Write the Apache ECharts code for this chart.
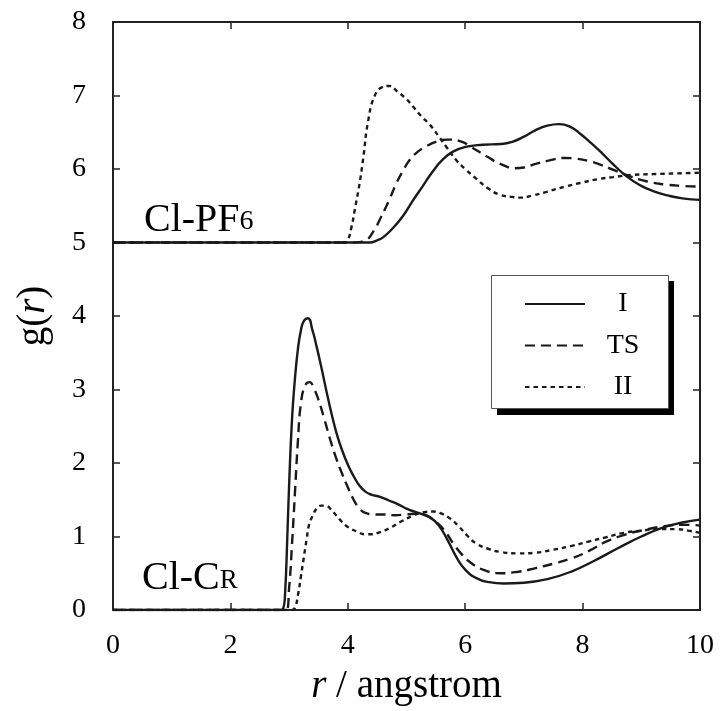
<!DOCTYPE html>
<html>
<head>
<meta charset="utf-8">
<script src="https://cdn.jsdelivr.net/npm/echarts@6/dist/echarts.min.js"></script>
<style>
html,body{margin:0;padding:0;background:#fff;}
#chart{width:723px;height:711px;}
</style>
</head>
<body>
<div id="chart"></div>
<script>
// ---- data ----
var seriesNames = ['I', 'TS', 'II'];
var xTicks = [0, 2, 4, 6, 8, 10];
var yTicks = [0, 1, 2, 3, 4, 5, 6, 7, 8];

// Cl-CR (lower curves)
var rLowI = [0, 2.85, 2.9, 2.93, 2.97, 3.0, 3.05, 3.1, 3.15, 3.2, 3.25, 3.32, 3.4, 3.47, 3.55, 3.63, 3.72, 3.81, 3.9, 4.0, 4.1, 4.2, 4.3, 4.4, 4.55, 4.7, 4.85, 5.0, 5.2, 5.4, 5.55, 5.7, 5.85, 6.0, 6.2, 6.4, 6.65, 7.0, 7.4, 7.8, 8.2, 8.6, 9.0, 9.4, 9.7, 10];
var gLowI = [0, 0, 0.02, 0.2, 1.0, 1.7, 2.6, 3.15, 3.55, 3.8, 3.93, 3.97, 3.8, 3.58, 3.3, 3.0, 2.68, 2.4, 2.18, 1.98, 1.82, 1.69, 1.61, 1.57, 1.54, 1.49, 1.44, 1.38, 1.32, 1.26, 1.15, 0.95, 0.72, 0.55, 0.43, 0.38, 0.36, 0.37, 0.42, 0.52, 0.67, 0.84, 1.0, 1.13, 1.19, 1.23];

var rLowTS = [0, 2.95, 3.0, 3.05, 3.1, 3.15, 3.2, 3.27, 3.35, 3.42, 3.5, 3.6, 3.7, 3.8, 3.9, 4.0, 4.1, 4.2, 4.3, 4.45, 4.6, 4.8, 5.0, 5.2, 5.35, 5.5, 5.65, 5.8, 5.95, 6.1, 6.3, 6.6, 6.9, 7.2, 7.5, 7.8, 8.1, 8.4, 8.7, 9.0, 9.4, 9.7, 10];
var gLowTS = [0, 0, 0.3, 0.9, 1.6, 2.3, 2.8, 3.05, 3.1, 3.02, 2.86, 2.6, 2.32, 2.07, 1.86, 1.67, 1.5, 1.38, 1.32, 1.3, 1.3, 1.29, 1.3, 1.31, 1.28, 1.2, 1.08, 0.9, 0.75, 0.64, 0.55, 0.5, 0.52, 0.57, 0.63, 0.7, 0.8, 0.93, 1.02, 1.08, 1.14, 1.16, 1.15];

var rLowII = [0, 3.05, 3.1, 3.15, 3.2, 3.24, 3.3, 3.34, 3.4, 3.47, 3.55, 3.62, 3.7, 3.8, 3.9, 4.0, 4.15, 4.3, 4.4, 4.55, 4.7, 4.9, 5.1, 5.3, 5.45, 5.6, 5.75, 5.9, 6.05, 6.2, 6.4, 6.6, 6.9, 7.2, 7.5, 7.8, 8.1, 8.4, 8.7, 9.0, 9.3, 9.6, 9.8, 10];
var gLowII = [0, 0, 0.03, 0.2, 0.45, 0.66, 0.97, 1.16, 1.28, 1.38, 1.42, 1.42, 1.38, 1.29, 1.2, 1.13, 1.07, 1.03, 1.03, 1.06, 1.11, 1.2, 1.28, 1.33, 1.34, 1.31, 1.24, 1.13, 1.0, 0.9, 0.83, 0.79, 0.77, 0.78, 0.82, 0.87, 0.93, 0.99, 1.05, 1.08, 1.1, 1.1, 1.08, 1.05];

// Cl-PF6 (upper curves, shifted by +5)
var rUpI = [0, 4.2, 4.38, 4.5, 4.6, 4.75, 4.94, 5.1, 5.28, 5.45, 5.62, 5.8, 6.0, 6.3, 6.6, 6.8, 7.0, 7.2, 7.4, 7.6, 7.8, 7.96, 8.15, 8.3, 8.5, 8.75, 9.0, 9.2, 9.45, 9.7, 10];
var gUpI = [5, 5, 5.0, 5.03, 5.07, 5.18, 5.36, 5.56, 5.77, 5.97, 6.13, 6.24, 6.3, 6.33, 6.34, 6.37, 6.44, 6.53, 6.59, 6.61, 6.57, 6.48, 6.35, 6.24, 6.08, 5.9, 5.77, 5.7, 5.64, 5.6, 5.58];

var rUpTS = [0, 4.1, 4.3, 4.45, 4.55, 4.7, 4.83, 4.95, 5.06, 5.2, 5.34, 5.5, 5.7, 5.91, 6.1, 6.37, 6.6, 6.85, 7.0, 7.2, 7.4, 7.7, 7.9, 8.1, 8.3, 8.55, 8.81, 9.1, 9.4, 9.7, 10];
var gUpTS = [5, 5, 5.03, 5.17, 5.32, 5.57, 5.81, 5.99, 6.13, 6.24, 6.31, 6.37, 6.4, 6.38, 6.3, 6.17, 6.07, 6.01, 6.02, 6.07, 6.11, 6.15, 6.14, 6.11, 6.06, 5.98, 5.9, 5.83, 5.79, 5.77, 5.76];

var rUpII = [0, 3.95, 4.0, 4.06, 4.12, 4.2, 4.26, 4.35, 4.46, 4.58, 4.71, 4.85, 5.0, 5.11, 5.25, 5.4, 5.57, 5.68, 5.85, 6.0, 6.2, 6.4, 6.59, 6.8, 6.93, 7.15, 7.39, 7.7, 7.96, 8.25, 8.52, 8.85, 9.2, 9.6, 10];
var gUpII = [5, 5, 5.03, 5.2, 5.45, 5.8, 6.13, 6.67, 7.0, 7.11, 7.13, 7.05, 6.95, 6.85, 6.72, 6.6, 6.42, 6.3, 6.12, 6.0, 5.86, 5.73, 5.65, 5.62, 5.61, 5.64, 5.69, 5.76, 5.81, 5.86, 5.89, 5.92, 5.93, 5.94, 5.95];

// ---- build ----
function zip(r, g) { return r.map(function (v, i) { return [v, g[i]]; }); }
var FONT = '"Liberation Serif", "Times New Roman", serif';
var INK = '#1a1a1a';
var styles = {
  'I': { type: 'solid', width: 2.4 },
  'TS': { type: [10, 6], width: 2.4 },
  'II': { type: [4.5, 4], width: 2.4 }
};
function mkSeries(name, r, g) {
  return {
    name: name, type: 'line', data: zip(r, g),
    smooth: 0.5, symbol: 'none', showSymbol: false,
    lineStyle: { color: INK, width: styles[name].width, type: styles[name].type },
    itemStyle: { color: INK },
    emphasis: { disabled: true }, animation: false, z: 3
  };
}

var chart = echarts.init(document.getElementById('chart'), null, { renderer: 'canvas' });

function baseAxis(extra) {
  var a = {
    type: 'value', splitLine: { show: false },
    axisLine: { show: true, onZero: false, lineStyle: { color: '#222', width: 2 } },
    axisTick: { show: true, inside: true, length: 7, lineStyle: { color: '#222', width: 1.5 } },
    axisLabel: { show: true, color: '#000', fontFamily: FONT, fontSize: 28 }
  };
  for (var k in extra) a[k] = extra[k];
  return a;
}

var option = {
  backgroundColor: '#fff',
  animation: false,
  grid: { left: 113, right: 23, top: 22, bottom: 99, containLabel: false },
  xAxis: [
    baseAxis({ position: 'bottom', min: xTicks[0], max: xTicks[xTicks.length - 1], interval: 2,
      axisLabel: { color: '#000', fontFamily: FONT, fontSize: 28, margin: 22 },
      name: '{i|r} / angstrom', nameLocation: 'middle', nameGap: 57,
      nameTextStyle: { fontFamily: FONT, fontSize: 39, color: '#000',
        rich: { i: { fontFamily: FONT, fontSize: 39, fontStyle: 'italic', color: '#000' } } } }),
    baseAxis({ position: 'top', min: 0, max: 10, interval: 2, axisLabel: { show: false } })
  ],
  yAxis: [
    baseAxis({ position: 'left', min: yTicks[0], max: yTicks[yTicks.length - 1], interval: 1,
      axisLabel: { color: '#000', fontFamily: FONT, fontSize: 28, margin: 27 },
      name: 'g({i|r})', nameLocation: 'middle', nameGap: 60, nameRotate: 90,
      nameTextStyle: { fontFamily: FONT, fontSize: 39, color: '#000',
        rich: { i: { fontFamily: FONT, fontSize: 39, fontStyle: 'italic', color: '#000' } } } }),
    baseAxis({ position: 'right', min: 0, max: 8, interval: 1, axisLabel: { show: false } })
  ],
  legend: {
    orient: 'vertical', left: 491, top: 277,
    data: seriesNames,
    itemWidth: 60, itemHeight: 28, itemGap: 13.5,
    padding: [13, 13, 9, 33],
    backgroundColor: 'transparent', borderWidth: 0,
    selectedMode: false,
    itemStyle: { color: 'rgba(0,0,0,0)', borderColor: 'rgba(0,0,0,0)', borderWidth: 0, opacity: 0 },
    formatter: '{c|{name}}',
    textStyle: { fontFamily: FONT, fontSize: 28, color: '#000',
      rich: { c: { fontFamily: FONT, fontSize: 28, color: '#000', width: 66, align: 'center' } } },
    z: 20
  },
  series: [
    mkSeries('I', rLowI, gLowI),
    mkSeries('TS', rLowTS, gLowTS),
    mkSeries('II', rLowII, gLowII),
    mkSeries('I', rUpI, gUpI),
    mkSeries('TS', rUpTS, gUpTS),
    mkSeries('II', rUpII, gUpII)
  ],
  graphic: [
    { type: 'rect', left: 497, top: 281, z: 15, silent: true,
      shape: { width: 177, height: 134 }, style: { fill: '#000' } },
    { type: 'rect', left: 491, top: 275, z: 16, silent: true,
      shape: { width: 177, height: 133 }, style: { fill: '#fff', stroke: '#555', lineWidth: 1 } },
    { type: 'text', left: 144, top: 200, z: 10,
      style: { text: '{a|Cl-PF}{b|6}', rich: {
        a: { fontFamily: FONT, fontSize: 40, fill: '#000', verticalAlign: 'bottom' },
        b: { fontFamily: FONT, fontSize: 28, fill: '#000', verticalAlign: 'bottom', padding: [0, 0, 4, 0] } } } },
    { type: 'text', left: 142, top: 558, z: 10,
      style: { text: '{a|Cl-C}{b|R}', rich: {
        a: { fontFamily: FONT, fontSize: 40, fill: '#000', verticalAlign: 'bottom' },
        b: { fontFamily: FONT, fontSize: 27, fill: '#000', verticalAlign: 'bottom', padding: [0, 0, 4, 0] } } } }
  ]
};
chart.setOption(option);
</script>
</body>
</html>
